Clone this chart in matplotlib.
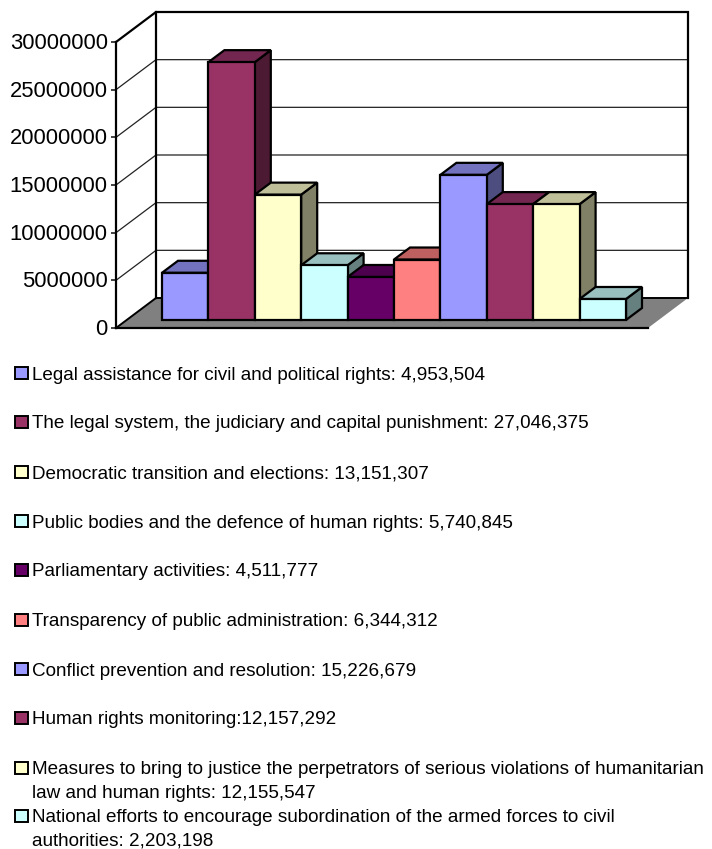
import matplotlib
matplotlib.use("Agg")
import matplotlib.pyplot as plt
from matplotlib.patches import Polygon, Rectangle
from matplotlib.transforms import ScaledTranslation

W, H = 712, 849
plt.rcParams['font.family'] = ['Liberation Sans', 'DejaVu Sans']

values = [4953504, 27046375, 13151307, 5740845, 4511777,
          6344312, 15226679, 12157292, 12155547, 2203198]
colors = ['#9999FF', '#993366', '#FFFFCC', '#CCFFFF', '#660066',
          '#FF8080', '#9999FF', '#993366', '#FFFFCC', '#CCFFFF']
tops = ['#7272BF', '#732650', '#BFBF99', '#99BFBF', '#4D004D',
        '#BF6060', '#7272BF', '#732650', '#BFBF99', '#99BFBF']
sides = ['#4D4D80', '#4D1A33', '#808066', '#668080', '#330033',
         '#804040', '#4D4D80', '#4D1A33', '#808066', '#668080']
legend_lines = [
    ["Legal assistance for civil and political rights: 4,953,504"],
    ["The legal system, the judiciary and capital punishment: 27,046,375"],
    ["Democratic transition and elections: 13,151,307"],
    ["Public bodies and the defence of human rights: 5,740,845"],
    ["Parliamentary activities: 4,511,777"],
    ["Transparency of public administration: 6,344,312"],
    ["Conflict prevention and resolution: 15,226,679"],
    ["Human rights monitoring:12,157,292"],
    ["Measures to bring to justice the perpetrators of serious violations of humanitarian",
     "law and human rights: 12,155,547"],
    ["National efforts to encourage subordination of the armed forces to civil",
     "authorities: 2,203,198"],
]
legend_y = [373, 422, 472, 521, 570, 620, 669, 718, 768, 816]
yticks = [0, 5000000, 10000000, 15000000, 20000000, 25000000, 30000000]

fig = plt.figure(figsize=(W / 100, H / 100), dpi=100, facecolor='white')
L, R, B, T = 116, 648, 328, 42
ax = fig.add_axes([L / W, 1 - B / H, (R - L) / W, (B - T) / H])
bar_px = 46.4
xmin = -0.5 - 46 / bar_px
ax.set_xlim(xmin, xmin + (R - L) / bar_px)
ax.set_ylim(0, 30000000)
ax.patch.set_alpha(0)
for s in ax.spines.values():
    s.set_visible(False)
ux = 1 / bar_px
uy = 30000000 / (B - T)
dep_x, dep_y = 40 * ux, 30 * uy      # full floor depth
x0, x1 = ax.get_xlim()
ymax = 30000000

# walls
for v in yticks[1:-1]:
    ax.plot([x0, x0 + dep_x, x1 + dep_x], [v, v + dep_y, v + dep_y],
            color='#222222', lw=0.9, clip_on=False, zorder=1, solid_joinstyle='miter')
ax.add_patch(Polygon([(x0, 0), (x1, 0), (x1 + dep_x, dep_y), (x0 + dep_x, dep_y)],
                     closed=True, facecolor='#808080', edgecolor='none', clip_on=False, zorder=1))
ax.plot([x0, x1], [0, 0], color='black', lw=1.6, clip_on=False, zorder=2)
ax.plot([x0 + dep_x, x1 + dep_x], [dep_y, dep_y], color='black', lw=1.4, clip_on=False, zorder=2)
ax.plot([x0, x0 + dep_x], [0, dep_y], color='black', lw=1.4, clip_on=False, zorder=2)
ax.plot([x0, x0], [0, ymax], color='black', lw=1.6, clip_on=False, zorder=2)
ax.plot([x0, x0 + dep_x, x1 + dep_x, x1 + dep_x],
        [ymax, ymax + dep_y, ymax + dep_y, dep_y],
        color='black', lw=1.6, clip_on=False, zorder=2, solid_joinstyle='miter')
ax.plot([x0 + dep_x, x0 + dep_x], [dep_y, ymax + dep_y], color='black', lw=1.6, clip_on=False, zorder=2)

# bars
lift_y = 8 * uy
bdx, bdy = 16 * ux, 12 * uy
z = 3
for i, v in enumerate(values):
    lft, rgt = i - 0.5, i + 0.5
    top = v + lift_y
    ekw = dict(edgecolor='black', linewidth=1.6, joinstyle='miter', clip_on=False)
    ax.add_patch(Polygon([(rgt, lift_y), (rgt + bdx, lift_y + bdy), (rgt + bdx, top + bdy), (rgt, top)],
                         closed=True, facecolor=sides[i], zorder=z, **ekw))
    ax.add_patch(Polygon([(lft, top), (lft + bdx, top + bdy), (rgt + bdx, top + bdy), (rgt, top)],
                         closed=True, facecolor=tops[i], zorder=z + 0.1, **ekw))
    ax.bar([i], [v], width=1, bottom=lift_y, color=colors[i], zorder=z + 0.2, **ekw)
    z += 1

# axes ticks
ax.set_xticks([])
ax.set_yticks(yticks)
ax.set_yticklabels([str(t) for t in yticks])
ax.tick_params(axis='y', length=3.5, width=1.3, color='#333333', labelsize=15.8, pad=2.5, labelcolor='black')
for lab in ax.get_yticklabels():
    lab.set_transform(lab.get_transform() + ScaledTranslation(0, 1 / 100, fig.dpi_scale_trans))

# legend
for lines, y, c in zip(legend_lines, legend_y, colors):
    fig.add_artist(Rectangle((15 / W, 1 - (y + 6) / H), 13 / W, 12 / H, transform=fig.transFigure,
                             facecolor=c, edgecolor='black', linewidth=1.4))
    for k, ln in enumerate(lines):
        fig.text(32 / W, 1 - (y + k * 23) / H, ln, fontsize=13.6, va='center_baseline', ha='left', color='black')

fig.savefig('out.png', dpi=100, facecolor='white')
